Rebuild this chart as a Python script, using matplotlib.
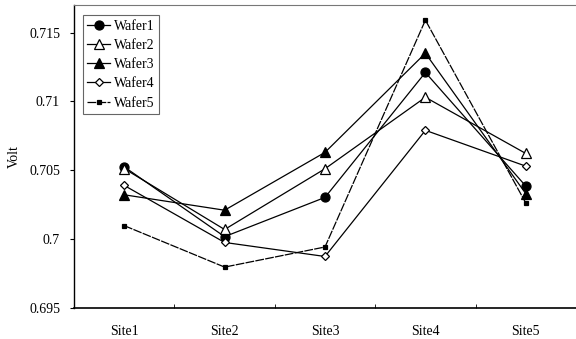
import numpy as np
import matplotlib.pyplot as plt
from matplotlib.ticker import FixedLocator

plt.rcParams['font.family'] = ['Liberation Serif', 'DejaVu Serif']

sites = ['Site1', 'Site2', 'Site3', 'Site4', 'Site5']
wafer1 = [0.70525, 0.70018, 0.70303, 0.7121, 0.70385]
wafer2 = [0.70512, 0.70070, 0.70511, 0.7103, 0.70622]
wafer3 = [0.70322, 0.70210, 0.70630, 0.7135, 0.70330]
wafer4 = [0.70390, 0.69976, 0.69874, 0.7079, 0.70530]
wafer5 = [0.70098, 0.69797, 0.69943, 0.7159, 0.70262]

names = ['Wafer1', 'Wafer2', 'Wafer3', 'Wafer4', 'Wafer5']
series = [wafer1, wafer2, wafer3, wafer4, wafer5]
styles = [
    dict(marker='o', ms=6.5, mfc='black', ls='-'),
    dict(marker='^', ms=6.5, mfc='white', ls='-'),
    dict(marker='^', ms=6.5, mfc='black', ls='-'),
    dict(marker='D', ms=4.5, mfc='white', ls='-'),
    dict(marker='s', ms=3, mfc='black', ls=(0, (7, 1))),
]

fig = plt.figure(figsize=(5.76, 3.39), dpi=100)
ax = fig.add_axes([74 / 576, 31 / 339, 502 / 576, 303 / 339])

x = np.arange(len(sites))
for name, vals, st in zip(names, series, styles):
    ax.plot(x, vals, color='black', lw=0.9, mec='black', mew=0.9,
            label=name, **st)

ax.set_xlim(-0.5, 4.5)
ax.set_ylim(0.695, 0.717)
ax.set_yticks([0.695, 0.7, 0.705, 0.71, 0.715])
ax.set_yticklabels(['0.695', '0.7', '0.705', '0.71', '0.715'])
ax.set_xticks(x)
ax.set_xticklabels(sites)
ax.xaxis.set_minor_locator(FixedLocator(np.arange(-0.5, 5, 1)))
ax.tick_params(axis='x', which='major', length=0, pad=12, labelsize=10)
ax.tick_params(axis='x', which='minor', direction='in', length=3, width=0.6)
ax.tick_params(axis='y', direction='out', length=3, width=0.8, pad=7, labelsize=10)

ax.spines['right'].set_visible(False)
ax.spines['top'].set_color('#777777')
ax.spines['top'].set_linestyle((0, (2, 1)))
ax.spines['top'].set_linewidth(0.8)
ax.spines['left'].set_linewidth(1.0)
ax.spines['bottom'].set_linewidth(1.2)

ax.set_ylabel('Volt', fontsize=10, labelpad=6)

leg = ax.legend(loc='upper left', bbox_to_anchor=(0.017, 0.968), fontsize=10,
                handlelength=1.6, handletextpad=0.3, labelspacing=0.45,
                borderpad=0.35, fancybox=False, framealpha=1,
                edgecolor='#666666', borderaxespad=0)
leg.get_frame().set_linewidth(0.8)

plt.savefig('out.png', dpi=100)
plt.close()
